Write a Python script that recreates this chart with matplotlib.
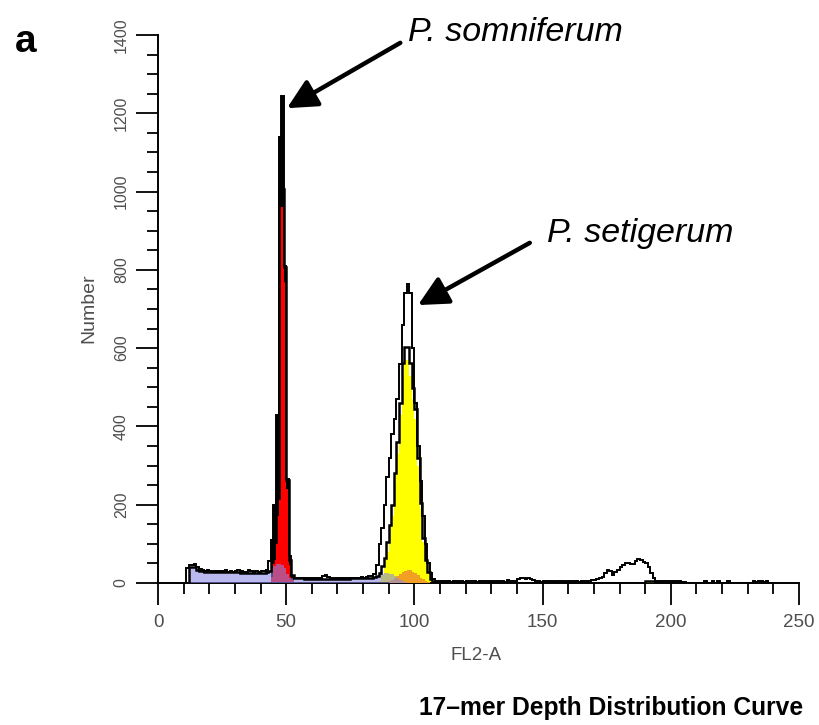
import numpy as np
import matplotlib
matplotlib.use('Agg')
import matplotlib.pyplot as plt
from matplotlib.ticker import MultipleLocator

plt.rcParams['font.family'] = ['Liberation Sans', 'DejaVu Sans']

# ---------------- data (counts per FL2-A channel) ----------------
raw_start = 10
raw_counts = [
    0, 38, 45, 47, 48, 42, 36, 33, 31, 32,            # 10-19
    30, 29, 31, 30, 29, 31, 33, 29, 30, 28,           # 20-29
    31, 34, 30, 29, 28, 32, 30, 28, 31, 29,           # 30-39
    30, 31, 34, 55, 110, 200, 430, 1140, 1245, 810,   # 40-49
    265, 70, 18, 14, 13, 13, 12, 13, 12, 13,          # 50-59
    12, 13, 12, 14, 18, 21, 15, 13, 12, 13,           # 60-69
    12, 13, 12, 13, 12, 13, 14, 13, 14, 15,           # 70-79
    14, 16, 17, 19, 24, 45, 100, 140, 200, 270,       # 80-89
    320, 380, 420, 470, 560, 660, 740, 765, 740, 600, # 90-99
    460, 350, 260, 170, 100, 50, 25, 10, 6, 5,        # 100-109
    4, 4, 5, 4, 3, 4, 5, 4, 4, 3,                     # 110-119
    4, 5, 4, 4, 3, 4, 4, 5, 4, 3,                     # 120-129
    4, 4, 5, 4, 4, 3, 8, 5, 4, 6,                     # 130-139
    10, 12, 14, 10, 13, 9, 8, 5, 4, 3,                # 140-149
    4, 5, 4, 4, 3, 4, 4, 5, 4, 3,                     # 150-159
    4, 4, 5, 4, 3, 4, 4, 5, 6, 7,                     # 160-169
    8, 10, 12, 16, 25, 33, 30, 20, 28, 33,            # 170-179
    40, 46, 50, 51, 49, 48, 55, 61, 58, 54,           # 180-189
    50, 41, 25, 12, 6, 4, 5, 5, 6, 5,                 # 190-199
    5, 4, 4, 5, 3, 2, 0, 0, 0, 0,                     # 200-209
    0, 0, 0, 4, 0, 0, 4, 0, 4, 0,                     # 210-219
    0, 0, 4, 0, 0, 0, 0, 0, 0, 0,                     # 220-229
    0, 0, 4, 3, 4, 4, 3, 4, 0, 0,                     # 230-239
]

debris_start = 12
debris_counts = [
    40, 42, 40, 34, 31, 30, 29, 29,                   # 12-19
    28, 28, 28, 28, 27, 27, 27, 27, 27, 27,           # 20-29
    27, 27, 26, 26, 26, 26, 26, 26, 26, 26,           # 30-39
    26, 26, 27, 30, 38, 44, 48, 48, 46, 38,           # 40-49
    24, 14, 12, 12, 12, 12, 12, 11, 11, 11,           # 50-59
    11, 11, 11, 11, 11, 11, 11, 11, 11, 11,           # 60-69
    11, 11, 11, 11, 11, 12, 12, 12, 12, 12,           # 70-79
    13, 13, 13, 14, 15, 17, 20, 23, 25, 25,           # 80-89
    24, 22, 18, 13, 8, 4, 2,                          # 90-96
]

red_start = 44      # P. somniferum G1 peak
red_counts = [15, 60, 170, 960, 960, 770, 240, 45, 8]

yellow_start = 86   # P. setigerum G1 peak
yellow_counts = [5, 20, 40, 80, 120, 170, 250, 330, 430, 530, 570,
                 570, 530, 470, 420, 300, 190, 105, 55, 25, 10, 3]

orange_start = 90
orange_counts = [4, 8, 13, 18, 23, 28, 31, 33, 32, 29, 25, 20, 14, 9, 5, 2]

olive_start = 190
olive_counts = [4, 5, 5, 4]

x_ticks = [0, 50, 100, 150, 200, 250]
y_ticks = [0, 200, 400, 600, 800, 1000, 1200, 1400]

# ---------------- figure ----------------
W, H = 819, 725
fig = plt.figure(figsize=(W / 100, H / 100), dpi=100)
ax = fig.add_axes([158 / W, 142 / H, 641 / W, 548 / H])


def edges(start, vals):
    return np.arange(start, start + len(vals) + 1)


raw_edges = edges(raw_start, raw_counts)

# narrow P. somniferum peak: raw histogram appears as solid black behind red
i0, i1 = red_start - raw_start, red_start - raw_start + len(red_counts)
ax.stairs(raw_counts[i0:i1], raw_edges[i0:i1 + 1], fill=True, color='black',
          lw=0, zorder=1.5)

ax.stairs(yellow_counts, edges(yellow_start, yellow_counts), fill=True,
          color='#ffff00', lw=0, zorder=2)
ax.stairs(red_counts, edges(red_start, red_counts), fill=True,
          color='#ff0000', lw=0, zorder=2)
ax.stairs(orange_counts, edges(orange_start, orange_counts), fill=True,
          color='#f2a024', lw=0, zorder=3)
ax.stairs(olive_counts, edges(olive_start, olive_counts), fill=True,
          color='#b0b000', lw=0, zorder=3)
ax.stairs(debris_counts, edges(debris_start, debris_counts), fill=True,
          color='#8888e6', alpha=0.59, lw=0, zorder=4)

# model sum envelope
model = np.zeros(len(raw_counts))
for s, v in [(debris_start, debris_counts), (red_start, red_counts),
             (yellow_start, yellow_counts), (orange_start, orange_counts),
             (olive_start, olive_counts)]:
    model[s - raw_start:s - raw_start + len(v)] += np.array(v)
ax.stairs(model, raw_edges, color='black', lw=1.8, zorder=5)

# raw data
ax.stairs(raw_counts, raw_edges, color='black', lw=1.4, zorder=6)

ax.set_xlim(0, 250)
ax.set_ylim(0, 1400)
ax.set_xticks(x_ticks)
ax.set_yticks(y_ticks)
ax.xaxis.set_minor_locator(MultipleLocator(10))
ax.yaxis.set_minor_locator(MultipleLocator(50))
for sp in ['top', 'right']:
    ax.spines[sp].set_visible(False)
for sp in ['left', 'bottom']:
    ax.spines[sp].set_linewidth(1.4)
ax.tick_params(which='major', length=16, width=1.3, direction='out',
               color='black', labelcolor='#4e4e4e', pad=5)
ax.tick_params(which='minor', length=8, width=1.3, direction='out',
               color='black')
ax.tick_params(axis='x', which='major', labelsize=13.5, pad=6)
ax.tick_params(axis='y', which='major', labelrotation=90, labelsize=11.5)
for lab in ax.get_yticklabels():
    lab.set_va('center')

ax.set_xlabel('FL2-A', fontsize=13.5, color='#4e4e4e')
ax.xaxis.set_label_coords(0.496, -0.117)
ax.set_ylabel('Number', fontsize=14, color='#4e4e4e')
ax.yaxis.set_label_coords(-0.095, 0.502)

# annotations
ax.text(139.3, 1406, 'P. somniferum', fontsize=24.5, style='italic',
        ha='center', va='center', clip_on=False)
ax.annotate('', xy=(50.3, 1213), xytext=(94.5, 1380),
            arrowprops=dict(arrowstyle='-|>,head_length=0.9,head_width=0.45',
                            lw=3.2, color='black', mutation_scale=20,
                            shrinkA=0, shrinkB=0),
            annotation_clip=False, zorder=7)
ax.text(188, 894, 'P. setigerum', fontsize=24.5, style='italic',
        ha='center', va='center', clip_on=False)
ax.annotate('', xy=(101.4, 710), xytext=(145, 869),
            arrowprops=dict(arrowstyle='-|>,head_length=0.9,head_width=0.45',
                            lw=3.2, color='black', mutation_scale=20,
                            shrinkA=0, shrinkB=0),
            annotation_clip=False, zorder=7)

fig.text(26 / W, 1 - 42 / H, 'a', fontsize=28, fontweight='bold',
         ha='center', va='center')
fig.text(803 / W, 1 - 708 / H, '17\u2013mer Depth Distribution Curve',
         fontsize=17.7, fontweight='bold', ha='right', va='center')

fig.savefig('out.png', dpi=100)
